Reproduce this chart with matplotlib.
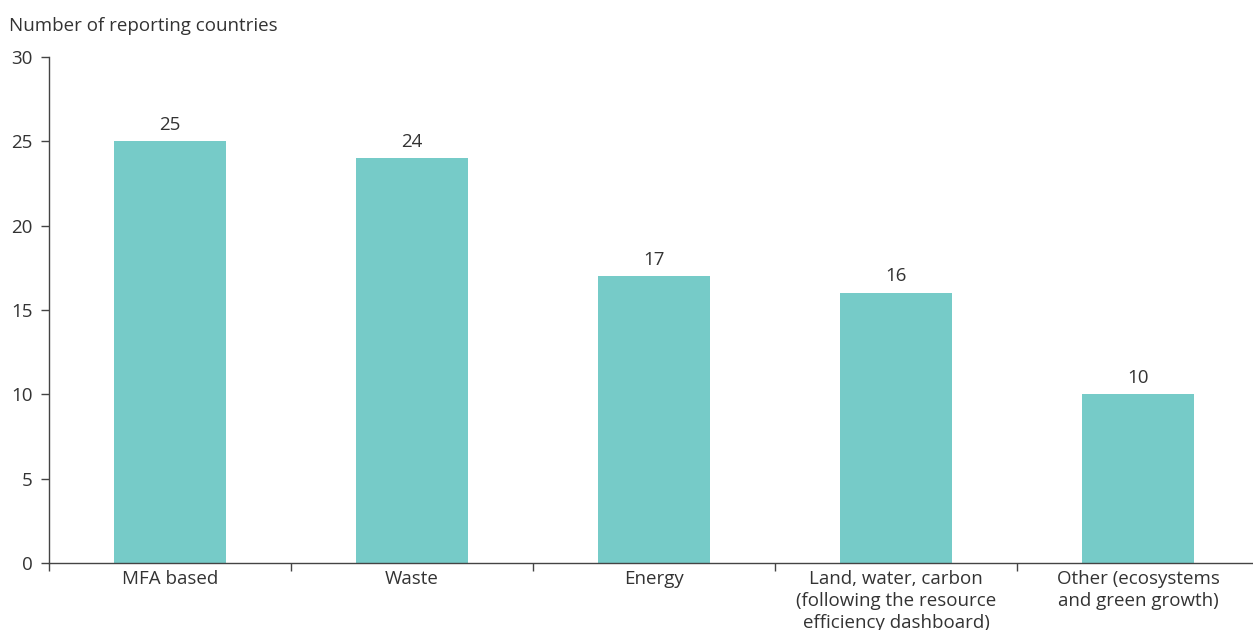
import matplotlib
matplotlib.use("Agg")
import matplotlib.pyplot as plt
import numpy as np

categories = ["MFA based", "Waste", "Energy",
              "Land, water, carbon\n(following the resource\nefficiency dashboard)",
              "Other (ecosystems\nand green growth)"]
values = [25, 24, 17, 16, 10]
yticks = [0, 5, 10, 15, 20, 25, 30]

plt.rcParams['font.family'] = ['Open Sans', 'DejaVu Sans']
text_color = '#333333'
axis_color = '#444444'
bar_color = '#76CBC8'
fs = 13.5

W, H = 1253, 630
fig = plt.figure(figsize=(W / 100, H / 100), dpi=100)
ax = fig.add_axes([49 / W, 1 - 563 / H, (1253 - 49) / W, (563 - 57) / H])

x = np.arange(len(categories))
bars = ax.bar(x, values, width=0.463, color=bar_color, zorder=2)
for xi, v in zip(x, values):
    ax.annotate(str(v), (xi, v), xytext=(0, 5.5), textcoords='offset points',
                ha='center', va='bottom', fontsize=fs, color=text_color)

ax.set_xlim(-0.5, -0.5 + (1253 - 49) / 242)
ax.set_ylim(0, 30)
ax.set_yticks(yticks)
ax.set_yticklabels([str(t) for t in yticks])

ax.set_xticks(np.arange(len(categories)) - 0.5)
ax.set_xticklabels([])
ax.set_xticks(x, minor=True)
ax.set_xticklabels(categories, minor=True, fontsize=fs, color=text_color,
                   linespacing=1.3)
ax.tick_params(axis='x', which='major', length=6, width=1, color=axis_color, direction='out')
ax.tick_params(axis='x', which='minor', length=0, pad=5)
ax.tick_params(axis='y', length=6, width=1, color=axis_color, labelsize=fs,
               labelcolor=text_color, pad=6)

for s in ['top', 'right']:
    ax.spines[s].set_visible(False)
for s in ['left', 'bottom']:
    ax.spines[s].set_color(axis_color)
    ax.spines[s].set_linewidth(1)

fig.text(9 / W, 1 - 26 / H, "Number of reporting countries", ha='left', va='center',
         fontsize=fs, color=text_color)

fig.savefig("out.png", dpi=100)
